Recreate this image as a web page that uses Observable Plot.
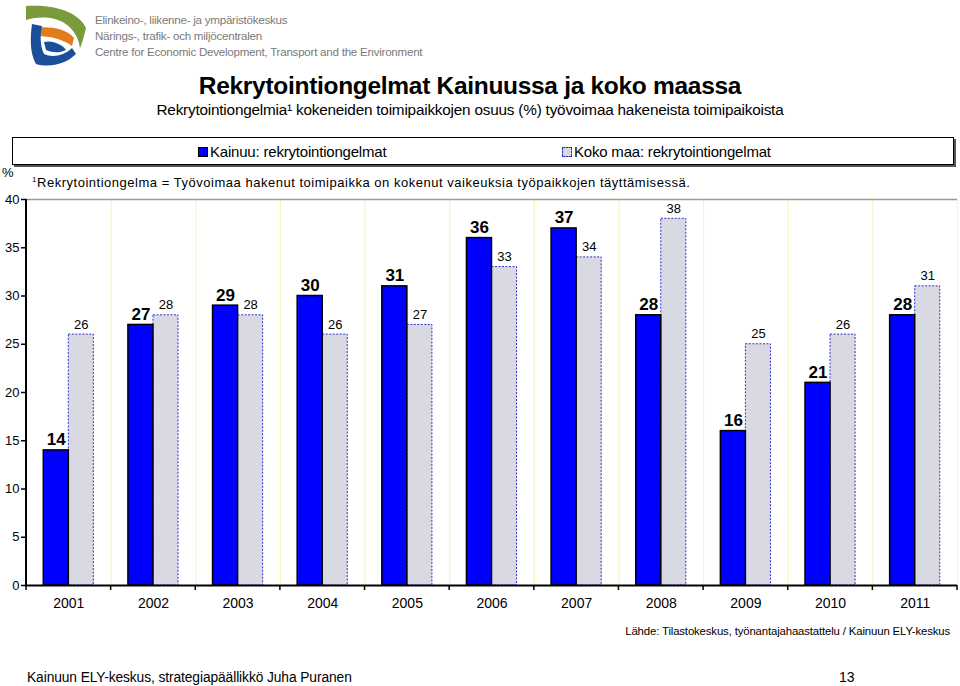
<!DOCTYPE html>
<html><head><meta charset="utf-8">
<script src="https://cdn.jsdelivr.net/npm/d3@7"></script>
<script src="https://cdn.jsdelivr.net/npm/@observablehq/plot@0.6"></script>
<style>
body{margin:0;background:#fff;font-family:"Liberation Sans",Arial,sans-serif;color:#000;}
#page{position:relative;width:960px;height:686px;overflow:hidden;background:#fff;}
.abs{position:absolute;white-space:nowrap;line-height:1.15;}
#logoText{left:95px;top:12px;font-size:11.6px;line-height:16px;color:#7a7a7a;letter-spacing:-0.25px;}
#title{left:0;width:940px;top:72px;text-align:center;font-size:24.5px;font-weight:bold;letter-spacing:-0.3px;}
#subtitle{left:0;width:940px;top:101px;text-align:center;font-size:15.3px;letter-spacing:-0.2px;}
#legend{left:12px;top:137px;width:940px;height:26px;border:1.5px solid #000;box-shadow:2px 2px 0 #555;font-size:15px;letter-spacing:-0.2px;}
.li{position:absolute;top:5px;}
.sw{display:inline-block;width:8px;height:8px;margin-right:2px;vertical-align:0px;}
#pct{left:2px;top:166px;font-size:13px;}
#note{left:32px;top:175px;font-size:13px;letter-spacing:0.52px;}
#note sup{font-size:8px;}
#chart{left:0;top:190px;}
#source{right:10px;top:625px;font-size:11.4px;letter-spacing:-0.15px;}
#footer{left:27px;top:670px;font-size:13.8px;letter-spacing:-0.1px;}
#pagenum{left:839px;top:670px;font-size:14px;line-height:1;}
</style></head>
<body>
<div id="page">
  <svg class="abs" style="left:20px;top:2px" width="70" height="66" viewBox="0 0 70 66">
    <path d="M6,4 C30,2 58,8 66,26 C64,34 62,42 60,46 C58,30 46,18 30,16 C20,15 12,16 6,18 Z" fill="#7a9a3c"/>
    <path d="M14,26 C28,24 46,26 54,36 L52,44 C44,38 32,34 16,34 Z" fill="#e27a1e"/>
    <path d="M12,22 C10,36 10,52 16,62 C30,66 46,62 56,52 L52,46 C44,54 32,56 24,52 C20,44 20,32 22,24 Z" fill="#1c4f9a"/>
    <path d="M24,40 C32,38 42,42 46,48 C38,52 30,50 26,48 Z" fill="#1c4f9a"/>
  </svg>
  <div id="logoText" class="abs">Elinkeino-, liikenne- ja ympäristökeskus<br>Närings-, trafik- och miljöcentralen<br>Centre for Economic Development, Transport and the Environment</div>
  <div id="title" class="abs">Rekrytointiongelmat Kainuussa ja koko maassa</div>
  <div id="subtitle" class="abs">Rekrytointiongelmia¹ kokeneiden toimipaikkojen osuus  (%) työvoimaa hakeneista toimipaikoista</div>
  <div id="legend" class="abs">
    <div class="li" style="left:185px"><span class="sw" style="background:#0000ff;border:1px solid #000"></span><span id="lg0"></span></div>
    <div class="li" style="left:549px"><span class="sw" style="background:#d9d9e3;border:1px dashed #3030c8"></span><span id="lg1"></span></div>
  </div>
  <div id="pct" class="abs">%</div>
  <div id="note" class="abs"><sup>1</sup>Rekrytointiongelma = Työvoimaa hakenut toimipaikka on kokenut vaikeuksia työpaikkojen täyttämisessä.</div>
  <div id="chart" class="abs"></div>
  <div id="source" class="abs">Lähde: Tilastokeskus, työnantajahaastattelu / Kainuun ELY-keskus</div>
  <div id="footer" class="abs">Kainuun ELY-keskus, strategiapäällikkö Juha Puranen</div>
  <div id="pagenum" class="abs">13</div>
</div>
<script>
const years = ["2001","2002","2003","2004","2005","2006","2007","2008","2009","2010","2011"];
const kainuu = [14, 27, 29, 30, 31, 36, 37, 28, 16, 21, 28];
const kokoMaa = [26, 28, 28, 26, 27, 33, 34, 38, 25, 26, 31];
const seriesKeys = ["Kainuu", "Koko maa"];
const seriesNames = ["Kainuu: rekrytointiongelmat", "Koko maa: rekrytointiongelmat"];
const yTicks = [0, 5, 10, 15, 20, 25, 30, 35, 40];

document.getElementById("lg0").textContent = seriesNames[0];
document.getElementById("lg1").textContent = seriesNames[1];

const dataK = years.map((y, i) => ({year: y, series: seriesKeys[0], value: kainuu[i]}));
const dataM = years.map((y, i) => ({year: y, series: seriesKeys[1], value: kokoMaa[i]}));

const chart = Plot.plot({
  width: 960, height: 430,
  marginLeft: 26, marginRight: 3, marginTop: 9, marginBottom: 35,
  style: {fontFamily: '"Liberation Sans", Arial, sans-serif', fontSize: "14px", color: "#000", background: "transparent", overflow: "visible"},
  fx: {domain: years, padding: 0, round: false, label: null},
  x: {domain: seriesKeys, paddingInner: 0, paddingOuter: 0.69, round: false, axis: null},
  y: {domain: [0, 40], label: null},
  marks: [
    Plot.frame({anchor: "right", stroke: "#fbf5c0", strokeWidth: 1.2}),
    Plot.ruleY([40], {stroke: "#999", strokeWidth: 1.5}),
    Plot.barY(dataM, {fx: "year", x: "series", y: "value", fill: "#d9d9e3", stroke: "#3030c8", strokeWidth: 1, strokeDasharray: "2,1.5"}),
    Plot.barY(dataK, {fx: "year", x: "series", y: "value", fill: "#0000ff", stroke: "#000", strokeWidth: 1.5}),
    Plot.text(dataK, {fx: "year", x: "series", y: "value", text: d => String(d.value), lineAnchor: "bottom", dy: -5, fontWeight: "bold", fontSize: 17}),
    Plot.text(dataM, {fx: "year", x: "series", y: "value", text: d => String(d.value), lineAnchor: "bottom", dy: -6, fontSize: 13}),
    Plot.ruleY([0], {stroke: "#000", strokeWidth: 2}),
    Plot.axisY({ticks: yTicks, tickSize: 5, tickPadding: 2, fontSize: 13, label: null, strokeWidth: 1.5}),
    Plot.axisFx({anchor: "bottom", tickSize: 0, tickPadding: 13, fontSize: 14, label: null})
  ]
});
document.getElementById("chart").appendChild(chart);

// axis line and group-boundary ticks from the library's scales
const fxs = chart.scale("fx"), ys = chart.scale("y");
const svg = d3.select(chart);
const y0 = ys.apply(0), y40 = ys.apply(40);
const edges = years.map(y => fxs.apply(y)).concat([fxs.apply(years[years.length - 1]) + fxs.bandwidth]);
svg.append("line").attr("x1", edges[0]).attr("x2", edges[0]).attr("y1", y40).attr("y2", y0 + 1)
  .attr("stroke", "#000").attr("stroke-width", 2);
svg.append("g").selectAll("line").data(edges).join("line")
  .attr("x1", d => d).attr("x2", d => d).attr("y1", y0).attr("y2", y0 + 5)
  .attr("stroke", "#000").attr("stroke-width", 1.5);
</script>
</body></html>
